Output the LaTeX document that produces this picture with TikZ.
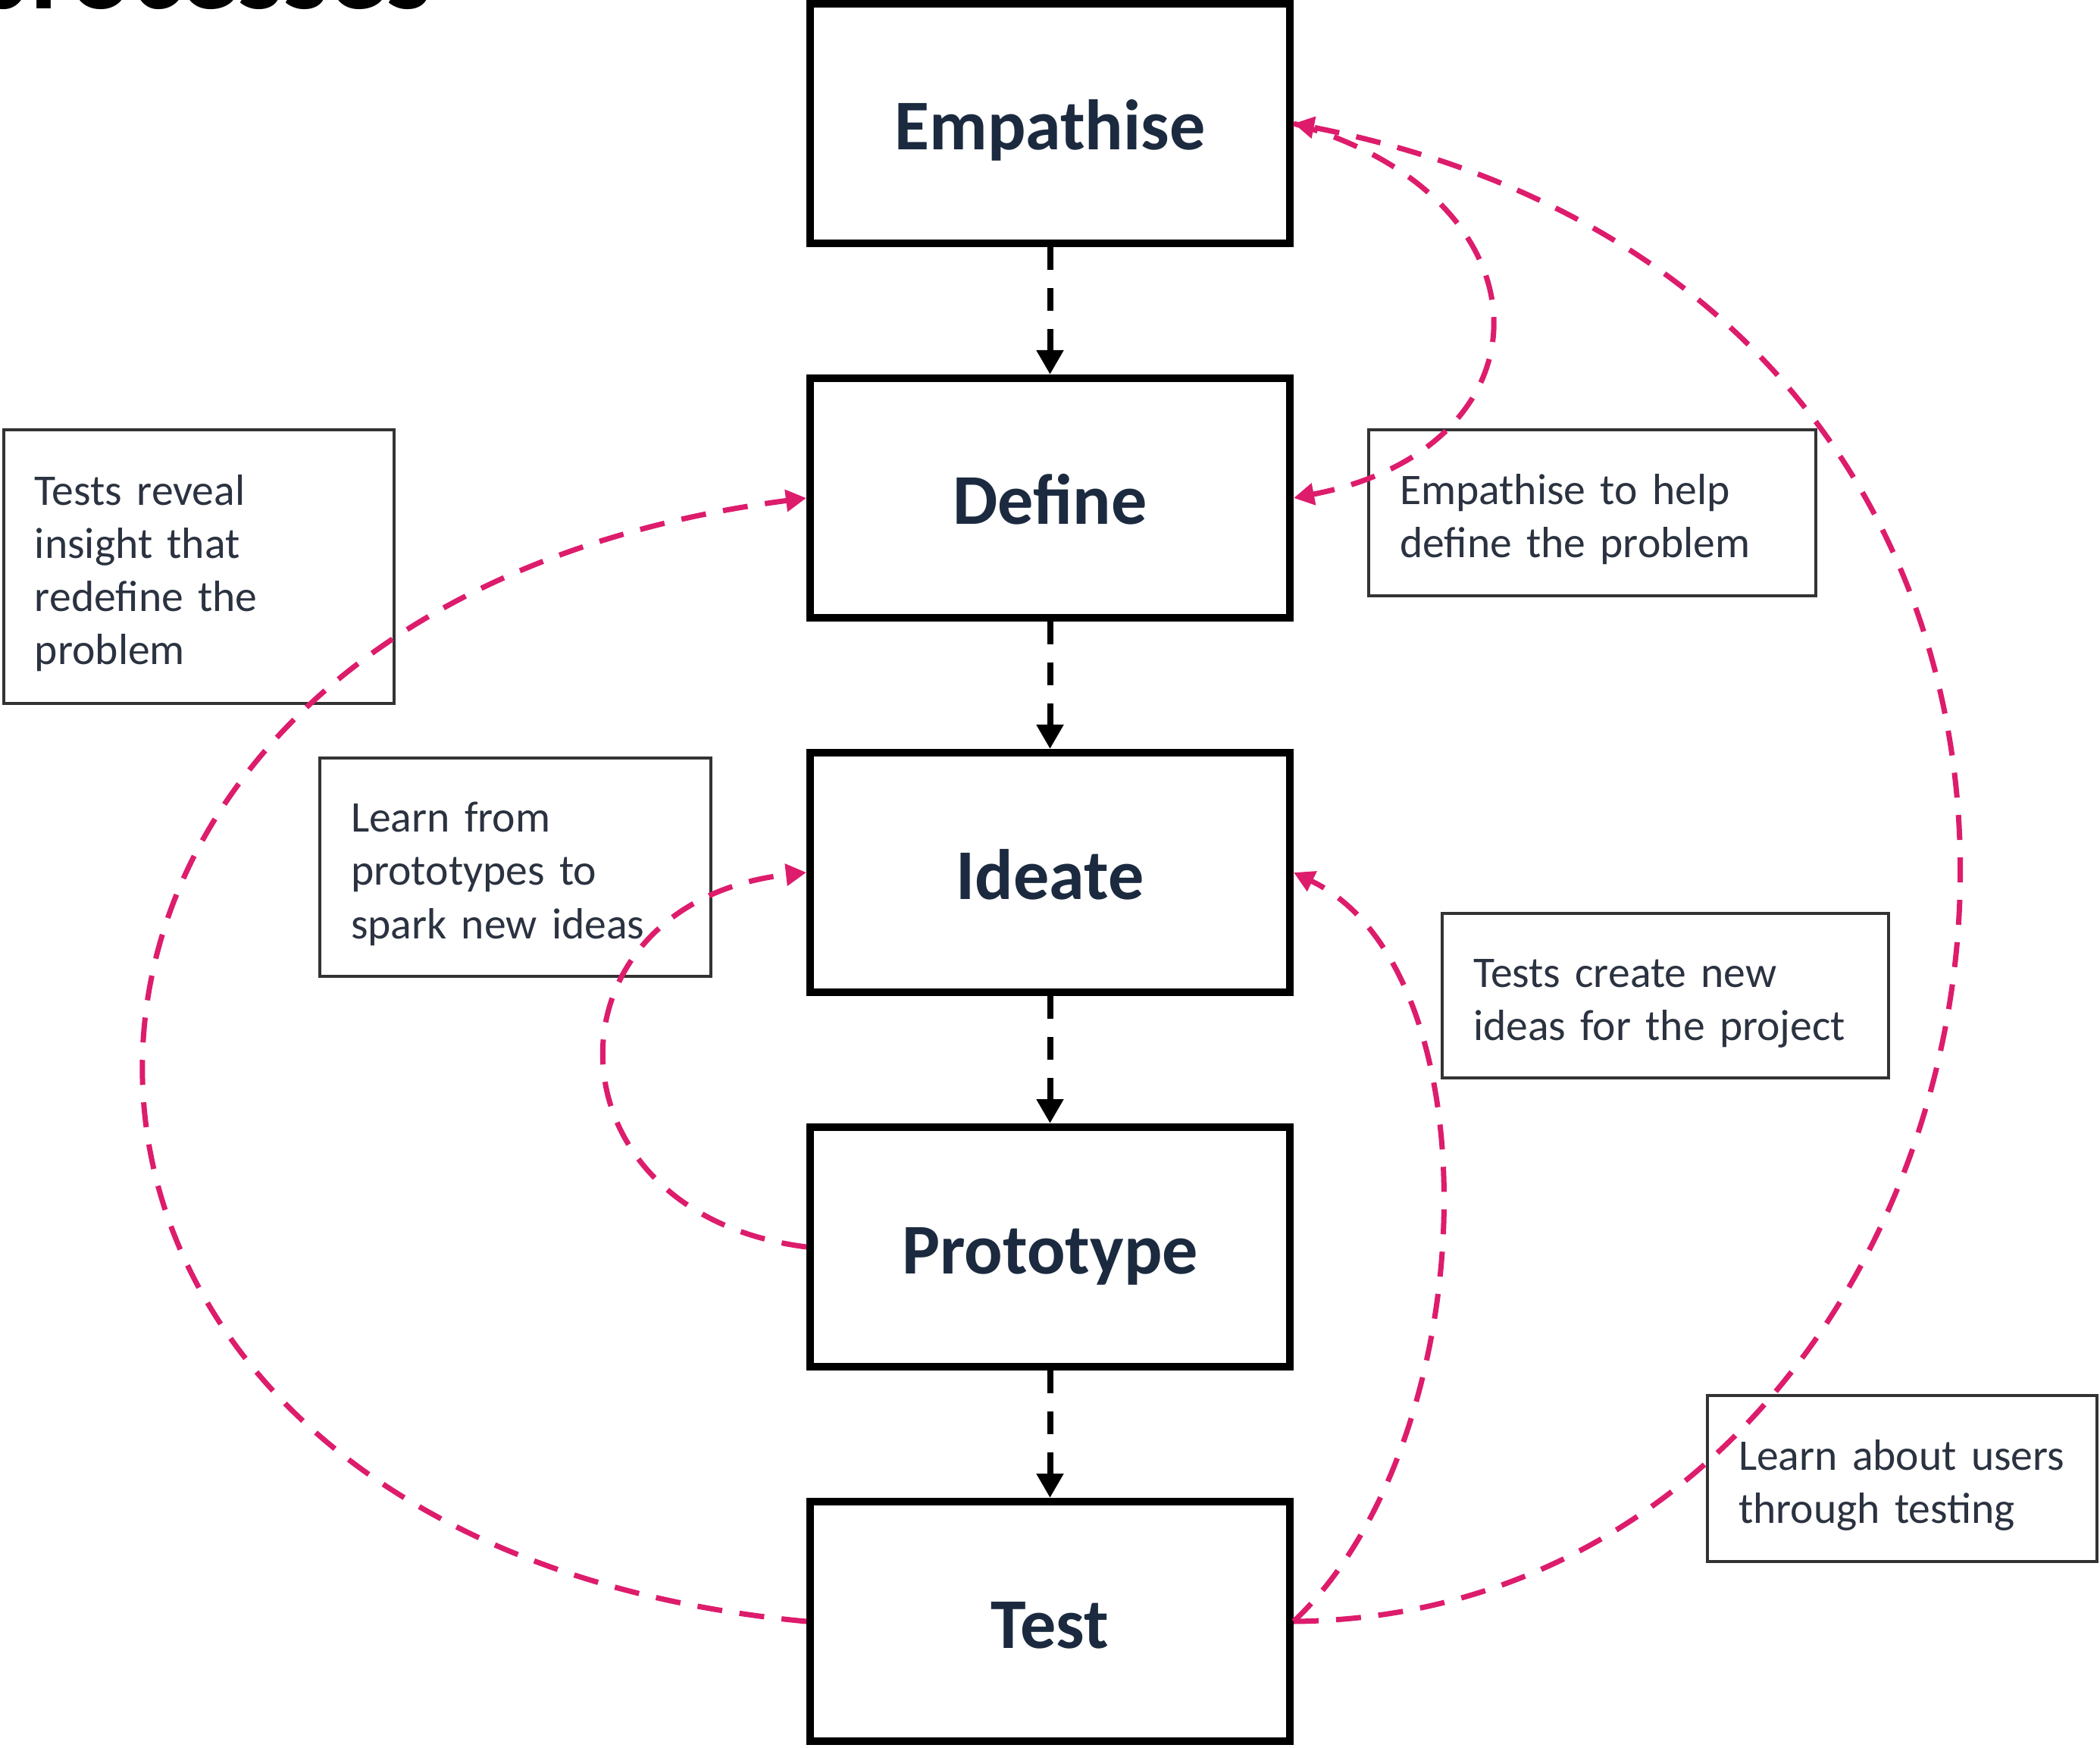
\documentclass[tikz,border=0pt]{standalone}
\usepackage{fontspec}
\setmainfont{Carlito}
\usetikzlibrary{positioning,arrows.meta}
\definecolor{stagetext}{HTML}{1B2A3F}
\definecolor{notetext}{HTML}{2B3240}
\definecolor{looppink}{HTML}{DD1C6C}
\begin{document}
\begin{tikzpicture}[node distance=1.68cm,
  stagebox/.style = {shape=rectangle, draw, line width=0.1cm,
    minimum width=6.33cm, minimum height=3.16cm,
    font=\fontsize{26.8}{32}\selectfont\bfseries, text=stagetext,
    text height=0.7cm, text depth=0pt},
  notebox/.style 2 args = {shape=rectangle, draw=black!80,
    line width=0.04cm, align=left, inner xsep=0.41cm,
    text width=#1, minimum height=#2,
    font=\fontsize{16.4}{20}\selectfont, text=notetext,
    execute at begin node={\rule{0pt}{16.3pt}}},
  flowarrow/.style = {draw, line width=0.08cm,
    dash pattern=on 0.3cm off 0.24cm,
    -{Triangle[length=0.32cm,width=0.34cm]}},
  backarrow/.style = {draw=looppink, line width=0.07cm,
    dash pattern=on 0.33cm off 0.23cm,
    -{Triangle[length=0.27cm,width=0.28cm]}}]
  \path[use as bounding box, fill=white] (0,0) rectangle (27.71,23.05);
  \node[anchor=base west, inner sep=0pt,
    font=\fontsize{43}{50}\selectfont\bfseries] (title) at (-0.41,22.93) {processes};

  \node[stagebox] (empathise) at (13.855,21.42) {Empathise};
  \node[stagebox, below=of empathise] (define) {Define};
  \node[stagebox, below=of define] (ideate) {Ideate};
  \node[stagebox, below=of ideate] (prototype) {Prototype};
  \node[stagebox, below=of prototype] (test) {Test};

  \node[notebox={4.33cm}{3.61cm}] (reveal) at (2.625,15.575)
    {Tests reveal\\insight that\\redefine the\\problem};
  \node[notebox={5.08cm}{2.19cm}] (helpdefine) at (21.01,16.285)
    {Empathise to help\\define the problem};
  \node[notebox={4.34cm}{2.88cm}] (spark) at (6.80,11.61)
    {Learn from\\prototypes to\\spark new ideas};
  \node[notebox={5.07cm}{2.17cm}] (create) at (21.975,9.915)
    {Tests create new\\ideas for the project};
  \node[notebox={4.32cm}{2.19cm}] (users) at (25.10,3.545)
    {Learn about users\\through testing};

  \draw[flowarrow] (empathise) -- (define);
  \draw[flowarrow] (define) -- (ideate);
  \draw[flowarrow] (ideate) -- (prototype);
  \draw[flowarrow] (prototype) -- (test);

  \draw[backarrow] (empathise.east) .. controls +(3.48,-0.97) and +(3.48,0.67) .. (define.east);
  \draw[backarrow] (test.east) .. controls +(10.13,0.09) and +(13.13,-2.57) .. (empathise.east);
  \draw[backarrow] (test.east) .. controls +(2.53,2.39) and +(2.68,-1.29) .. (ideate.east);
  \draw[backarrow] (test.west) .. controls +(-11.64,1.09) and +(-11.64,-1.52) .. (define.west);
  \draw[backarrow] (prototype.west) .. controls +(-3.54,0.45) and +(-3.54,-0.40) .. (ideate.west);
\end{tikzpicture}
\end{document}
